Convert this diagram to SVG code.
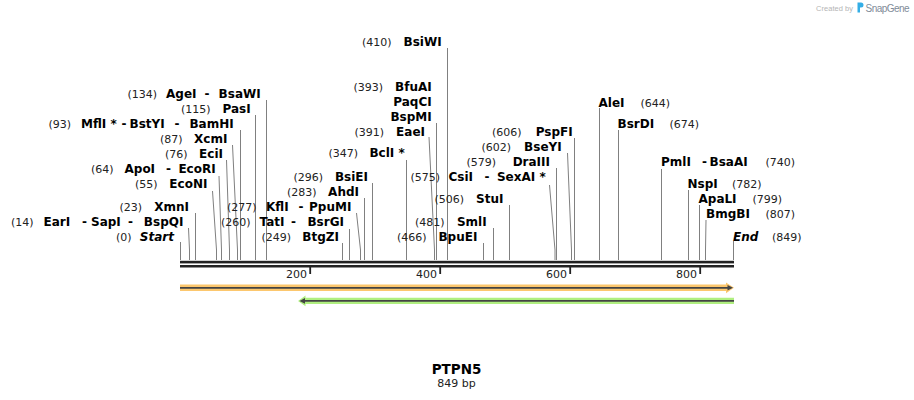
<svg xmlns="http://www.w3.org/2000/svg" width="914" height="400" viewBox="0 0 914 400">
<style>
text{font-family:"DejaVu Sans",Verdana,sans-serif;font-size:11px}
.n{fill:#222}
.b{font-weight:bold;font-size:12px;fill:#000}
.i{font-style:italic;font-weight:bold;font-size:12px;fill:#000}
.e{text-anchor:end}
.ax{fill:#222;font-size:11px}
#connectors path{fill:none;stroke:#808080;stroke-width:1}
</style>
<rect width="914" height="400" fill="#fff"/>
<g id="logo">
<text x="816" y="10.5" textLength="37" style="font-family:'Liberation Sans',Arial,sans-serif;font-size:7.5px;fill:#b5b5b5">Created by</text>
<path d="M857.5 2.5 h3.5 a2.5 2.5 0 0 1 0 5 h-1 v5 h-2.5 z" fill="#34aee6"/>
<text x="865.5" y="12" textLength="44" style="font-family:'Liberation Sans',Arial,sans-serif;font-size:10px;fill:#7f8c99">SnapGene</text>
</g>
<g id="map">
<rect x="180" y="260.8" width="554" height="2.6" fill="#222"/>
<rect x="180" y="265" width="554" height="2.5" fill="#222"/>
<rect x="309.3" y="265" width="1.8" height="9" fill="#222"/>
<rect x="439.3" y="265" width="1.8" height="9" fill="#222"/>
<rect x="569.3" y="265" width="1.8" height="9" fill="#222"/>
<rect x="699.3" y="265" width="1.8" height="9" fill="#222"/>
<text class="ax e" x="307" y="278">200</text>
<text class="ax e" x="437" y="278">400</text>
<text class="ax e" x="567" y="278">600</text>
<text class="ax e" x="697" y="278">800</text>
</g>
<g id="feature-orange">
<path d="M180 284.6 H726 V282.4 L734 287.8 L726 293.2 V291 H180 Z" fill="#fcc76e"/>
<path d="M180 287.8 H729" stroke="#444" stroke-width="1.8"/>
<path d="M727.5 285 L733 287.8 L727.5 290.6 Z" fill="#444"/>
</g>
<g id="feature-green">
<path d="M734 297.8 H305.5 V295.5 L298 300.9 L305.5 306.3 V304 H734 Z" fill="#b0ef80"/>
<path d="M734 300.9 H303" stroke="#444" stroke-width="1.8"/>
<path d="M305 298.1 L299.5 300.9 L305 303.7 Z" fill="#444"/>
</g>
<g id="connectors">
<path d="M266.5 100 V260"/>
<path d="M255.5 115 V260"/>
<path d="M240.5 130 V260"/>
<path d="M232.5 145 L237.5 250 V260"/>
<path d="M226.5 160 L229.5 250 V260"/>
<path d="M219 176 L221.5 250 V260"/>
<path d="M212.5 191 L216.5 250 V260"/>
<path d="M195.5 213 V260"/>
<path d="M188.5 228 L189.5 250 V260"/>
<path d="M180.5 242 V260"/>
<path d="M447.5 48 V260"/>
<path d="M436.5 123 V260"/>
<path d="M429 137 L434.5 250 V260"/>
<path d="M406.5 160 V260"/>
<path d="M372.5 183 V260"/>
<path d="M364.5 198 V260"/>
<path d="M356.5 213 L360.5 250 V260"/>
<path d="M349.5 229 V260"/>
<path d="M342.5 243 V260"/>
<path d="M549.5 185 L555 250 V260"/>
<path d="M556.5 168 V260"/>
<path d="M567.5 153 L571.5 250 V260"/>
<path d="M574.5 138 V260"/>
<path d="M509.5 205 V260"/>
<path d="M493.5 228 V260"/>
<path d="M483.5 243 V260"/>
<path d="M599.5 108 V260"/>
<path d="M618.5 130 V260"/>
<path d="M661.5 169 V260"/>
<path d="M688.5 190 V260"/>
<path d="M699.5 205 V260"/>
<path d="M706 220 L705.5 250 V260"/>
<path d="M733.5 241 V260"/>
</g>
<g id="labels" xml:space="preserve">
<g id="site-134"><text class="n" x="127.5" y="98">(134)</text><text class="b" x="166" y="98">AgeI</text><text class="b" x="204.5" y="98">-</text><text class="b e" x="260.7" y="98">BsaWI</text></g>
<g id="site-115"><text class="n" x="181" y="113">(115)</text><text class="b e" x="250.7" y="113">PasI</text></g>
<g id="site-93"><text class="n" x="48.5" y="128">(93)</text><text class="b" x="81" y="128">MflI *</text><text class="b" x="121.5" y="128">-</text><text class="b" x="129.5" y="128">BstYI</text><text class="b" x="174.5" y="128">-</text><text class="b e" x="233.7" y="128">BamHI</text></g>
<g id="site-87"><text class="n" x="160" y="143">(87)</text><text class="b e" x="227.4" y="143">XcmI</text></g>
<g id="site-76"><text class="n" x="165" y="158">(76)</text><text class="b e" x="223" y="158">EciI</text></g>
<g id="site-64"><text class="n" x="91" y="173">(64)</text><text class="b" x="124.5" y="173">ApoI</text><text class="b" x="166" y="173">-</text><text class="b e" x="215.7" y="173">EcoRI</text></g>
<g id="site-55"><text class="n" x="135" y="188">(55)</text><text class="b e" x="207.4" y="188">EcoNI</text></g>
<g id="site-23"><text class="n" x="119.5" y="211">(23)</text><text class="b e" x="189" y="211">XmnI</text></g>
<g id="site-14"><text class="n" x="11" y="226">(14)</text><text class="b" x="43.5" y="226">EarI</text><text class="b" x="82" y="226">-</text><text class="b" x="91" y="226">SapI</text><text class="b" x="128" y="226">-</text><text class="b e" x="183.4" y="226">BspQI</text></g>
<g id="site-0"><text class="n" x="116" y="241">(0)</text><text class="i e" x="174" y="241">Start</text></g>
<g id="site-410"><text class="n" x="362" y="46">(410)</text><text class="b e" x="441.7" y="46">BsiWI</text></g>
<g id="site-393"><text class="n" x="353.5" y="91">(393)</text><text class="b e" x="431.7" y="91">BfuAI</text><text class="b e" x="431.7" y="106">PaqCI</text><text class="b e" x="431.7" y="121">BspMI</text></g>
<g id="site-391"><text class="n" x="354.5" y="136">(391)</text><text class="b e" x="425" y="136">EaeI</text></g>
<g id="site-347"><text class="n" x="328.5" y="157">(347)</text><text class="b e" x="404.7" y="157">BclI *</text></g>
<g id="site-296"><text class="n" x="293.5" y="181">(296)</text><text class="b e" x="368" y="181">BsiEI</text></g>
<g id="site-283"><text class="n" x="287" y="196">(283)</text><text class="b e" x="359" y="196">AhdI</text></g>
<g id="site-277"><text class="n" x="227" y="211">(277)</text><text class="b" x="266" y="211">KflI</text><text class="b" x="298.5" y="211">-</text><text class="b e" x="351.4" y="211">PpuMI</text></g>
<g id="site-260"><text class="n" x="221" y="226">(260)</text><text class="b" x="259.5" y="226">TatI</text><text class="b" x="291" y="226">-</text><text class="b e" x="344" y="226">BsrGI</text></g>
<g id="site-249"><text class="n" x="261.5" y="241">(249)</text><text class="b e" x="339" y="241">BtgZI</text></g>
<g id="site-575"><text class="n" x="410.5" y="181">(575)</text><text class="b" x="448.5" y="181">CsiI</text><text class="b" x="484.5" y="181">-</text><text class="b e" x="545.7" y="181">SexAI *</text></g>
<g id="site-579"><text class="n" x="466.5" y="166">(579)</text><text class="b e" x="550" y="166">DraIII</text></g>
<g id="site-602"><text class="n" x="481.5" y="151">(602)</text><text class="b e" x="561.7" y="151">BseYI</text></g>
<g id="site-606"><text class="n" x="492" y="136">(606)</text><text class="b e" x="572.7" y="136">PspFI</text></g>
<g id="site-506"><text class="n" x="434.5" y="203">(506)</text><text class="b e" x="503.4" y="203">StuI</text></g>
<g id="site-481"><text class="n" x="415" y="226">(481)</text><text class="b e" x="486.7" y="226">SmlI</text></g>
<g id="site-466"><text class="n" x="397" y="241">(466)</text><text class="b e" x="477.4" y="241">BpuEI</text></g>
<g id="site-644"><text class="b" x="598.5" y="107">AleI</text><text class="n" x="640.5" y="107">(644)</text></g>
<g id="site-674"><text class="b" x="617.5" y="128">BsrDI</text><text class="n" x="669.5" y="128">(674)</text></g>
<g id="site-740"><text class="b" x="661" y="166">PmlI</text><text class="b" x="702" y="166">-</text><text class="b" x="709.5" y="166">BsaAI</text><text class="n" x="765.5" y="166">(740)</text></g>
<g id="site-782"><text class="b" x="687.5" y="188">NspI</text><text class="n" x="732" y="188">(782)</text></g>
<g id="site-799"><text class="b" x="698.5" y="203">ApaLI</text><text class="n" x="752.5" y="203">(799)</text></g>
<g id="site-807"><text class="b" x="706" y="218">BmgBI</text><text class="n" x="765.5" y="218">(807)</text></g>
<g id="site-849"><text class="i" x="733" y="241">End</text><text class="n" x="772" y="241">(849)</text></g>
</g>
<g id="title">
<text x="456.5" y="373.5" text-anchor="middle" style="font-weight:bold;font-size:13.5px;fill:#000">PTPN5</text>
<text x="456.5" y="387" text-anchor="middle" style="font-size:11px;fill:#222">849 bp</text>
</g>
</svg>
